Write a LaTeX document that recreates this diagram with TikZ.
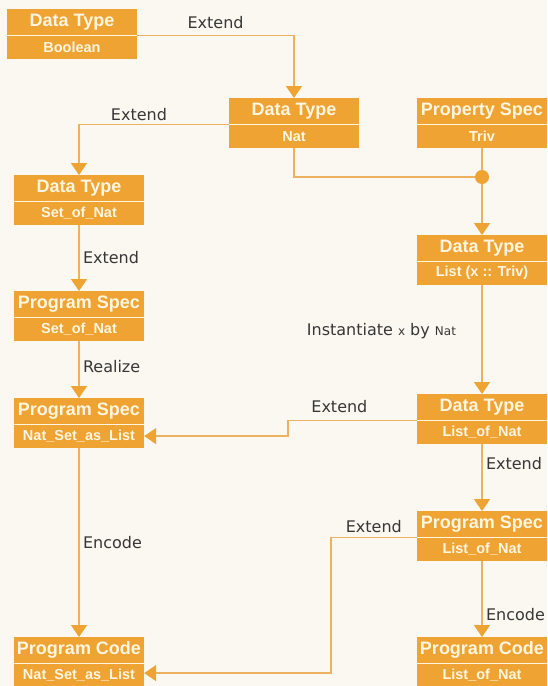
\documentclass[tikz,border=0pt]{standalone}
\usepackage{fontspec}
\setmainfont{Liberation Sans}
\newfontfamily\etichetta{DejaVu Sans}
\usetikzlibrary{arrows.meta,positioning}
\definecolor{arancio}{RGB}{238,163,50}
\definecolor{linea}{RGB}{236,178,96}
\definecolor{crema}{RGB}{255,246,226}
\definecolor{sfondo}{RGB}{250,248,240}
\definecolor{scritta}{RGB}{55,55,55}

\begin{document}
\begin{tikzpicture}[x=1pt, y=-1pt, >={Triangle[width=16pt,length=12pt,color=arancio]},
    head/.style={fill=arancio, text=crema, anchor=north, minimum width=130pt, minimum height=26pt, inner sep=0pt, font=\fontsize{18}{20}\selectfont\bfseries},
    sub/.style={fill=arancio, text=crema, minimum width=130pt, minimum height=23pt, inner sep=0pt, font=\fontsize{14.5}{16}\selectfont\bfseries},
    sep/.style={draw=crema, line width=1.2pt},
    conn/.style={draw=linea, line width=1.4pt},
    lbl/.style={text=scritta, font=\etichetta\fontsize{16}{18}\selectfont},
    punto/.style={circle, fill=arancio, minimum size=14pt, inner sep=0pt}]
    % Sfondo
    \path[clip] (0,0) rectangle (547,686);
    \fill[sfondo] (0,0) rectangle (547,686);
    % Blocchi colonna sinistra
    \node[head] (bool) at (72,9) {Data Type};
    \node[sub, below=0pt of bool] (boolsub) {Boolean};
    \node[head] (setdt) at (79,175) {Data Type};
    \node[sub, below=0pt of setdt] (setdtsub) {Set\_of\_Nat};
    \node[head] (setps) at (79,291) {Program Spec};
    \node[sub, below=0pt of setps] (setpssub) {Set\_of\_Nat};
    \node[head] (nslps) at (79,398) {Program Spec};
    \node[sub, below=0pt of nslps] (nslpssub) {Nat\_Set\_as\_List};
    \node[head] (nslpc) at (79,637) {Program Code};
    \node[sub, below=0pt of nslpc] (nslpcsub) {Nat\_Set\_as\_List};
    % Blocco centrale
    \node[head] (nat) at (294,98) {Data Type};
    \node[sub, below=0pt of nat] (natsub) {Nat};
    % Blocchi colonna destra
    \node[head] (triv) at (482,98) {Property Spec};
    \node[sub, below=0pt of triv] (trivsub) {Triv};
    \node[head] (listx) at (482,235) {Data Type};
    \node[sub, below=0pt of listx] (listxsub) {List (x :: Triv)};
    \node[head] (listdt) at (482,394) {Data Type};
    \node[sub, below=0pt of listdt] (listdtsub) {List\_of\_Nat};
    \node[head] (listps) at (482,511) {Program Spec};
    \node[sub, below=0pt of listps] (listpssub) {List\_of\_Nat};
    \node[head] (listpc) at (482,637) {Program Code};
    \node[sub, below=0pt of listpc] (listpcsub) {List\_of\_Nat};
    % Linee di separazione
    \foreach \b in {bool,nat,triv,setdt,setps,nslps,nslpc,listx,listdt,listps,listpc}
        \draw[sep] (\b.south west) -- (\b.south east);
    % Punto di unione
    \node[punto] (join) at (482,177) {};
    % Collegamenti
    \draw[conn,->] (bool.south east) -| node[lbl, pos=.25, above=3pt] {Extend} (nat.north);
    \draw[conn,->] (nat.south west) -| node[lbl, pos=.3, above] {Extend} (setdt.north);
    \draw[conn] (natsub.south) |- (join);
    \draw[conn] (trivsub.south) -- (join);
    \draw[conn,->] (join) -- (listx.north);
    \draw[conn,->] (listxsub.south) -- node[lbl, pos=.42, left=22pt] {Instantiate {\fontsize{12}{14}\selectfont x} by {\fontsize{12}{14}\selectfont Nat}} (listdt.north);
    \draw[conn,->] (listdt.south west) -- ++(-129,0) node[lbl, pos=.6, above=4pt] {Extend} |- (nslpssub.east);
    \draw[conn,->] (listdtsub.south) -- node[lbl, pos=.3, right] {Extend} (listps.north);
    \draw[conn,->] (listps.south west) -- ++(-86,0) node[lbl, pos=.5, above=1pt] {Extend} |- ([yshift=2pt]nslpcsub.east);
    \draw[conn,->] (listpssub.south) -- node[lbl, pos=.7, right] {Encode} (listpc.north);
    \draw[conn,->] (setdtsub.south) -- node[lbl, right] {Extend} (setps.north);
    \draw[conn,->] (setpssub.south) -- node[lbl, pos=.45, right] {Realize} (nslps.north);
    \draw[conn,->] (nslpssub.south) -- node[lbl, right] {Encode} (nslpc.north);
\end{tikzpicture}
\end{document}
